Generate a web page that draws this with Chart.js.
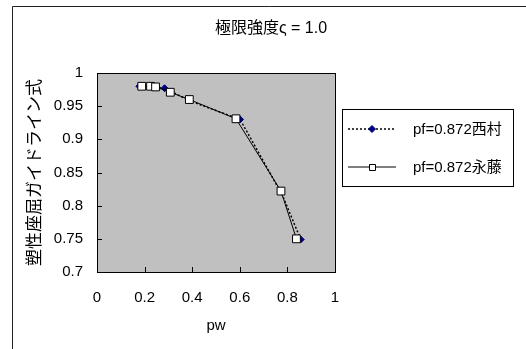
<!DOCTYPE html>
<html>
<head>
<meta charset="utf-8">
<script src="https://cdn.jsdelivr.net/npm/chart.js@4"></script>
<style>
  html, body { margin: 0; padding: 0; background: #fff; }
  #wrap { width: 526px; height: 349px; position: relative; }
</style>
</head>
<body>
<div id="wrap"><canvas id="myChart" width="526" height="349"></canvas></div>
<script>
// values
const nishimuraX = [0.178, 0.284, 0.39, 0.601, 0.78, 0.856];
const nishimuraY = [0.980, 0.977, 0.958, 0.930, 0.815, 0.749];
const nishimuraShown = [1, 1, 0, 1, 0, 1];

const nagafujiX = [0.188, 0.225, 0.246, 0.308, 0.388, 0.584, 0.773, 0.838];
const nagafujiY = [0.980, 0.980, 0.979, 0.971, 0.960, 0.931, 0.822, 0.750];

const xTicks = [0, 0.2, 0.4, 0.6, 0.8, 1];
const yTicks = [0.7, 0.75, 0.8, 0.85, 0.9, 0.95, 1];

const seriesNames = ['pf=0.872西村', 'pf=0.872永藤'];
const chartTitle = '極限強度ς = 1.0';

const FONT = '"Liberation Sans", Arial, "Noto Sans CJK JP", sans-serif';

function toPoints(xs, ys) {
  let pts = [];
  for (let i = 0; i < xs.length; i++) {
    pts.push({x: xs[i], y: ys[i]});
  }
  return pts;
}

// grey plot area, frame, inner tick marks, title and legend box
const excelLook = {
  id: 'excelLook',
  beforeDraw(chart) {
    const ctx = chart.ctx;
    const a = chart.chartArea;
    ctx.save();
    ctx.fillStyle = '#fff';
    ctx.fillRect(0, 0, chart.width, chart.height);
    // outer frame (only left and top visible)
    ctx.strokeStyle = '#222';
    ctx.lineWidth = 1;
    ctx.beginPath();
    ctx.moveTo(12.5, chart.height);
    ctx.lineTo(12.5, 6.5);
    ctx.lineTo(chart.width, 6.5);
    ctx.stroke();
    ctx.fillStyle = '#c0c0c0';
    ctx.fillRect(a.left, a.top, a.right - a.left, a.bottom - a.top);
    ctx.restore();
  },
  beforeDatasetsDraw(chart) {
    const ctx = chart.ctx;
    const a = chart.chartArea;
    const xs = chart.scales.x, ys = chart.scales.y;
    ctx.save();
    ctx.strokeStyle = '#000';
    ctx.lineWidth = 1;
    ctx.strokeRect(Math.round(a.left) + 0.5, Math.round(a.top) + 0.5,
      Math.round(a.right - a.left), Math.round(a.bottom - a.top));
    ctx.beginPath();
    xTicks.forEach(v => {
      const px = Math.round(xs.getPixelForValue(v)) + 0.5;
      ctx.moveTo(px, a.bottom);
      ctx.lineTo(px, a.bottom - 5);
    });
    yTicks.forEach(v => {
      const py = Math.round(ys.getPixelForValue(v)) + 0.5;
      ctx.moveTo(a.left, py);
      ctx.lineTo(a.left + 5, py);
    });
    ctx.stroke();
    ctx.restore();
  },
  afterDraw(chart) {
    const ctx = chart.ctx;
    ctx.save();
    // title
    ctx.fillStyle = '#000';
    ctx.font = '16px ' + FONT;
    ctx.textAlign = 'center';
    ctx.textBaseline = 'middle';
    ctx.fillText(chartTitle, 271, 29);

    // legend box
    const bx = 342.5, by = 109.5, bw = 171, bh = 77;
    ctx.fillStyle = '#fff';
    ctx.fillRect(bx, by, bw, bh);
    ctx.strokeStyle = '#000';
    ctx.lineWidth = 1;
    ctx.strokeRect(bx, by, bw, bh);

    const rows = [129, 167];
    chart.data.datasets.forEach((ds, i) => {
      const y = rows[i];
      ctx.save();
      ctx.strokeStyle = '#000';
      ctx.lineWidth = ds.borderWidth;
      ctx.setLineDash(ds.borderDash || []);
      ctx.beginPath();
      ctx.moveTo(348, y);
      ctx.lineTo(396, y);
      ctx.stroke();
      ctx.restore();
      ctx.fillStyle = ds.pointBackgroundColor;
      ctx.strokeStyle = ds.pointBorderColor;
      ctx.lineWidth = 1;
      ctx.beginPath();
      if (ds.pointStyle == 'rect') {
        ctx.rect(369.5, y - 2.5, 6, 6);
      } else {
        ctx.moveTo(372, y - 3.5); ctx.lineTo(375.5, y); ctx.lineTo(372, y + 3.5); ctx.lineTo(368.5, y);
        ctx.closePath();
      }
      ctx.fill();
      ctx.stroke();
      ctx.fillStyle = '#000';
      ctx.font = '15px ' + FONT;
      ctx.textAlign = 'left';
      ctx.fillText(ds.label, 413, y + 1);
    });
    ctx.restore();
  }
};

const data = {
  datasets: [
    {
      label: seriesNames[0],
      data: toPoints(nishimuraX, nishimuraY),
      borderColor: '#000',
      borderWidth: 1.5,
      borderDash: [2, 2],
      pointStyle: 'rectRot',
      pointRadius: nishimuraShown.map(s => s ? 3.5 : 0),
      pointBackgroundColor: '#000080',
      pointBorderColor: '#000080',
      pointBorderWidth: 1,
      order: 1
    },
    {
      label: seriesNames[1],
      data: toPoints(nagafujiX, nagafujiY),
      borderColor: '#000',
      borderWidth: 1,
      pointStyle: 'rect',
      pointRadius: 5.5,
      pointBackgroundColor: '#fff',
      pointBorderColor: '#000',
      pointBorderWidth: 1,
      order: 0
    }
  ]
};

const config = {
  type: 'scatter',
  data: data,
  plugins: [excelLook],
  options: {
    responsive: false,
    animation: false,
    showLine: true,
    layout: {
      padding: {left: 13, right: 191, top: 73, bottom: 0}
    },
    plugins: {
      legend: {display: false},
      tooltip: {enabled: false}
    },
    elements: {
      line: {tension: 0}
    },
    scales: {
      x: {
        type: 'linear',
        min: 0,
        max: 1,
        afterBuildTicks: (scale) => { scale.ticks = xTicks.map(v => ({value: v})); },
        afterFit: (scale) => { scale.height = 77; },
        grid: {display: false, drawTicks: false},
        border: {display: false},
        ticks: {
          color: '#000',
          padding: 17,
          maxRotation: 0,
          font: {family: FONT, size: 15},
          callback: (v) => String(v)
        },
        title: {
          display: true,
          text: 'pw',
          color: '#000',
          font: {family: FONT, size: 15},
          padding: {top: 0, bottom: 14}
        }
      },
      y: {
        type: 'linear',
        min: 0.7,
        max: 1,
        afterBuildTicks: (scale) => { scale.ticks = yTicks.map(v => ({value: v})); },
        afterFit: (scale) => { scale.width = 84; },
        grid: {display: false, drawTicks: false},
        border: {display: false},
        ticks: {
          color: '#000',
          padding: 14,
          font: {family: FONT, size: 15},
          callback: (v) => String(v)
        },
        title: {
          display: true,
          text: '塑性座屈ガイドライン式',
          color: '#000',
          font: {family: FONT, size: 17},
          padding: {top: 12, bottom: 0}
        }
      }
    }
  }
};

const myChart = new Chart(document.getElementById('myChart'), config);
</script>
</body>
</html>
